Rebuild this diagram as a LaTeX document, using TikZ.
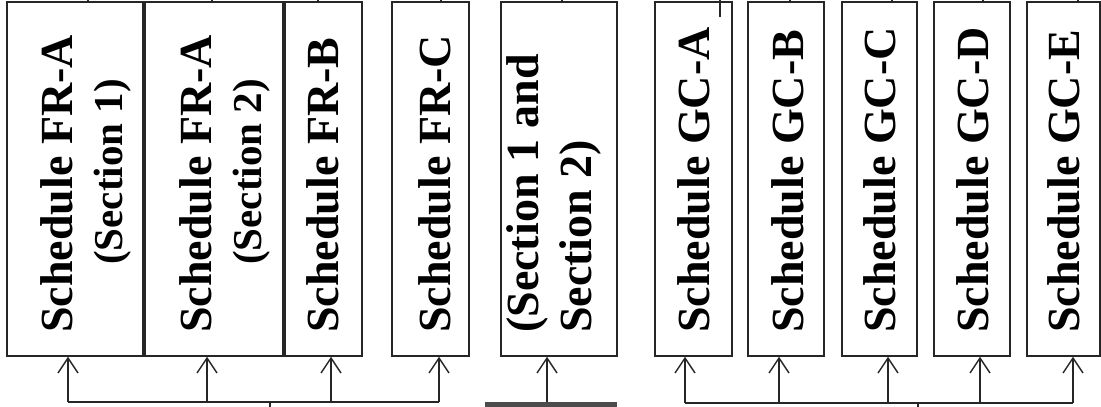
\documentclass[tikz,border=0pt]{standalone}
\usepackage{fontspec}
\setmainfont{Liberation Serif}
\usetikzlibrary{arrows.meta}

\begin{document}
\begin{tikzpicture}[x=1pt,y=1pt,
  sched/.style={draw=black!85, line width=1.5pt, minimum height=354pt, inner sep=0pt},
  captext/.style={rotate=90, anchor=west, inner sep=0pt, align=center,
    font=\bfseries\fontsize{46}{50}\selectfont},
  feed/.style={draw=black!85, line width=1.4pt},
  up/.style={feed, -{Straight Barb[length=15pt,width=20pt]}}]
\useasboundingbox (0,0) rectangle (1101,407);
% FR schedules
\node [sched, minimum width=136pt] (fra1) at (75,228) {};
\node [sched, minimum width=138pt] (fra2) at (214,228) {};
\node [sched, minimum width=77pt] (frb) at (323.5,228) {};
\node [sched, minimum width=77pt] (frc) at (430.5,228) {};
% middle box
\node [sched, minimum width=116pt] (sec) at (559,228) {};
% GC schedules
\node [sched, minimum width=77pt] (gca) at (693.5,228) {};
\node [sched, minimum width=76pt] (gcb) at (786,228) {};
\node [sched, minimum width=75pt] (gcc) at (879.5,228) {};
\node [sched, minimum width=76pt] (gcd) at (972,228) {};
\node [sched, minimum width=73pt] (gce) at (1063.5,228) {};
% bar under the middle box
\node [fill=black!70, minimum width=132pt, minimum height=4.5pt, inner sep=0pt, anchor=south] (base) at (551,0) {};

% texts, read from bottom to top
\node [captext] (fra1-t) at (86,74) {Schedule FR-A\\{\fontsize{41}{50}\selectfont \hspace*{24pt}(Section 1)}};
\node [captext] (fra2-t) at (225,74) {Schedule FR-A\\{\fontsize{41}{50}\selectfont \hspace*{24pt}(Section 2)}};
\node [captext] (frb-t) at (322.5,74) {Schedule FR-B};
\node [captext] (frc-t) at (434.5,74) {Schedule FR-C};
\node [captext, align=left, font=\bfseries\fontsize{46}{53}\selectfont] (sec-t) at (554,74) {(Section 1 and\\Section 2)};
\node [captext] (gca-t) at (694,74) {Schedule GC-A};
\node [captext] (gcb-t) at (787.5,74) {Schedule GC-B};
\node [captext] (gcc-t) at (880,74) {Schedule GC-C};
\node [captext] (gcd-t) at (972.5,74) {Schedule GC-D};
\node [captext] (gce-t) at (1064,74) {Schedule GC-E};

% left bus
\coordinate (l1) at (68,5);
\coordinate (l2) at (207,5);
\coordinate (l3) at (331,5);
\coordinate (l4) at (439,5);
\coordinate (l0) at (270,0);
\draw [feed] (l1) -- (l4);
\draw [feed] (l0) -- (l0 |- l1);
\draw [up] (l1) -- (l1 |- fra1.south);
\draw [up] (l2) -- (l2 |- fra2.south);
\draw [up] (l3) -- (l3 |- frb.south);
\draw [up] (l4) -- (l4 |- frc.south);
% middle
\draw [up] (base.north -| 547,0) -- (sec.south -| 547,0);
% right bus
\coordinate (r1) at (685,4);
\coordinate (r2) at (779,4);
\coordinate (r3) at (888,4);
\coordinate (r4) at (980,4);
\coordinate (r5) at (1073,4);
\coordinate (r0) at (918,0);
\draw [feed] (r1) -- (r5);
\draw [feed] (r0) -- (r0 |- r1);
\draw [up] (r1) -- (r1 |- gca.south);
\draw [up] (r2) -- (r2 |- gcb.south);
\draw [up] (r3) -- (r3 |- gcc.south);
\draw [up] (r4) -- (r4 |- gcd.south);
\draw [up] (r5) -- (r5 |- gce.south);

% stubs at the top
\foreach \x/\n in {88/fra1, 212/fra2, 318/frb, 441/frc, 562/sec, 790/gcb, 892/gcc, 983/gcd, 1078/gce}
{
  \coordinate (t) at (\x,407);
  \draw [feed] (t) -- (t |- \n.north);
}
\coordinate (ta) at (720,407);
\draw [feed] (ta) -- ++(0,-17);
\end{tikzpicture}
\end{document}
